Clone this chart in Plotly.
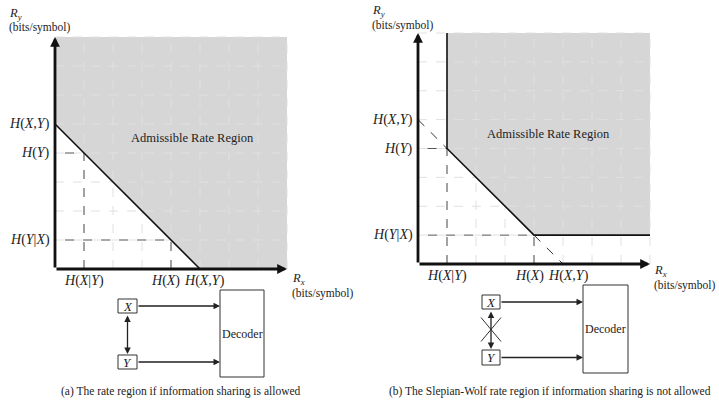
import plotly.graph_objects as go

W, H = 719, 403

# rate values in bits/symbol (one grid step = 1)
rate_max = 8
h_x_given_y = 1
h_y_given_x = 1
h_x = 4
h_y = 4
h_xy = 5
grid_steps = list(range(0, rate_max + 1))

x_tick_vals = [h_x_given_y, h_x, h_xy]
x_tick_text = ["<i>H</i>(<i>X</i>|<i>Y</i>)", "<i>H</i>(<i>X</i>)", "<i>H</i>(<i>X,Y</i>)"]
y_tick_vals = [h_y_given_x, h_y, h_xy]
y_tick_text = ["<i>H</i>(<i>Y</i>|<i>X</i>)", "<i>H</i>(<i>Y</i>)", "<i>H</i>(<i>X,Y</i>)"]

region_label = "Admissible Rate Region"
unit_label = "(bits/symbol)"
captions = ["(a) The rate region if information sharing is allowed",
            "(b) The Slepian-Wolf rate region if information sharing is not allowed"]

SERIF = "Liberation Serif, Times New Roman, serif"
SHADE = "#d6d6d6"
GRID = "#e0e0e0"
PAD = 0.5

# pixel boxes for the two rate plots: (left, right), (bottom, top)
panels = [
    dict(xa="x", ya="y", px=(55, 287), py=(269, 37), sw=False,
         xshift=[0, -6, 4], lbl=(192, 138), cap=181,
         ry=(7, 14), rx=(290, 279),
         xbox=(118, 299, 137, 313), ybox=(118, 355, 137, 369), dec=(220, 290, 264, 377)),
    dict(xa="x2", ya="y2", px=(418, 650), py=(264, 33), sw=True,
         xshift=[0, -5, 5], lbl=(548, 134), cap=550,
         ry=(370, 11), rx=(652, 271),
         xbox=(482, 295, 500, 309), ybox=(482, 350, 500, 365), dec=(583, 285, 628, 373)),
]

fig = go.Figure()
annotations = []
shapes = []


def px_ann(x, y, text, size=11, **kw):
    d = dict(x=x / W, y=1 - y / H, xref="paper", yref="paper", text=text, showarrow=False,
             xanchor="center", yanchor="middle",
             font=dict(family=SERIF, size=size, color="#222"))
    d.update(kw)
    annotations.append(d)


def px_arrow(x0, y0, x1, y1, side="end"):
    annotations.append(dict(x=x1 / W, y=1 - y1 / H, xref="paper", yref="paper",
                            ax=x0 - x1, ay=y0 - y1, axref="pixel", ayref="pixel",
                            text="", showarrow=True, arrowhead=2, startarrowhead=2,
                            arrowside=side, arrowsize=1, startarrowsize=1,
                            arrowwidth=1.3, arrowcolor="#222"))


def px_rect(x0, y0, x1, y1):
    shapes.append(dict(type="rect", xref="paper", yref="paper", x0=x0 / W, x1=x1 / W,
                       y0=1 - y0 / H, y1=1 - y1 / H, line=dict(color="#333", width=1)))


layout_axes = {}
for i, p in enumerate(panels):
    xa, ya = p["xa"], p["ya"]
    ux = (p["px"][1] - p["px"][0]) / rate_max
    uy = (p["py"][0] - p["py"][1]) / rate_max
    xdom = [(p["px"][0] - PAD * ux) / W, (p["px"][1] + PAD * ux) / W]
    ydom = [1 - (p["py"][0] + PAD * uy) / H, 1 - (p["py"][1] - PAD * uy) / H]
    suffix = "" if i == 0 else str(i + 1)
    layout_axes["xaxis" + suffix] = dict(domain=xdom, range=[-PAD, rate_max + PAD], visible=False,
                                         anchor=ya, fixedrange=True)
    layout_axes["yaxis" + suffix] = dict(domain=ydom, range=[-PAD, rate_max + PAD], visible=False,
                                         anchor=xa, fixedrange=True)

    # shaded admissible region
    if p["sw"]:
        rx = [h_x_given_y, h_x_given_y, h_x, rate_max, rate_max]
        ry = [rate_max, h_y, h_y_given_x, h_y_given_x, rate_max]
    else:
        rx = [0, h_xy, rate_max, rate_max, 0]
        ry = [h_xy, 0, 0, rate_max, rate_max]
    fig.add_trace(go.Scatter(x=rx, y=ry, fill="toself", fillcolor=SHADE, mode="lines",
                             line=dict(width=0), xaxis=xa, yaxis=ya, hoverinfo="skip"))

    # dashed grid drawn over the shading
    gx, gy = [], []
    for g in grid_steps[1:]:
        gx += [g, g, None, 0, rate_max, None]
        gy += [0, rate_max, None, g, g, None]
    fig.add_trace(go.Scatter(x=gx, y=gy, mode="lines", line=dict(color=GRID, width=1, dash="dash"),
                             xaxis=xa, yaxis=ya, hoverinfo="skip"))

    # projections of the corner points onto the axes
    cx = [h_x_given_y, h_x_given_y, 0, None, h_x, h_x, 0]
    cy = [0, h_y, h_y, None, 0, h_y_given_x, h_y_given_x]
    fig.add_trace(go.Scatter(x=cx, y=cy, mode="lines", line=dict(color="#555", width=1, dash="dash"),
                             xaxis=xa, yaxis=ya, hoverinfo="skip"))

    # boundary of the region
    if p["sw"]:
        fig.add_trace(go.Scatter(x=[0, h_x_given_y, None, h_x, h_xy], y=[h_xy, h_y, None, h_y_given_x, 0],
                                 mode="lines", line=dict(color="#333", width=1, dash="dash"),
                                 xaxis=xa, yaxis=ya, hoverinfo="skip"))
        bx, by = rx[:4], ry[:4]
    else:
        bx, by = rx[:2], ry[:2]
    fig.add_trace(go.Scatter(x=bx, y=by, mode="lines", line=dict(color="#111", width=1.6),
                             xaxis=xa, yaxis=ya, hoverinfo="skip"))

    # axes with arrow heads
    for tx, ty in [(rate_max, 0), (0, rate_max)]:
        annotations.append(dict(x=tx, y=ty, ax=0, ay=0, xref=xa, yref=ya, axref=xa, ayref=ya,
                                text="", showarrow=True, arrowhead=2, arrowsize=0.7,
                                arrowwidth=2.8, arrowcolor="#111"))

    # tick labels
    for v, t, s in zip(x_tick_vals, x_tick_text, p["xshift"]):
        annotations.append(dict(x=v, y=0, xref=xa, yref=ya, text=t, showarrow=False, yanchor="top",
                                xanchor="center", yshift=-2, xshift=s,
                                font=dict(family=SERIF, size=14, color="#222")))
    for v, t in zip(y_tick_vals, y_tick_text):
        annotations.append(dict(x=0, y=v, xref=xa, yref=ya, text=t, showarrow=False, xanchor="right",
                                yanchor="middle", xshift=-3,
                                font=dict(family=SERIF, size=14, color="#222")))

    px_ann(*p["lbl"], region_label, size=12.5)
    # axis names, R with a subscript and the unit underneath
    for (lx, ly), sub in [(p["ry"], "y"), (p["rx"], "x")]:
        px_ann(lx, ly, "<i>R</i><sub><i>%s</i></sub>" % sub, size=12.5, xanchor="left")
        px_ann(lx, ly + 14, unit_label, size=11.5, xanchor="left")
    px_ann(p["cap"], 391, captions[i], size=11.5)

    # source / decoder sketch
    xb, yb, dec = p["xbox"], p["ybox"], p["dec"]
    px_rect(*xb)
    px_rect(*yb)
    px_rect(*dec)
    px_ann((xb[0] + xb[2]) / 2, (xb[1] + xb[3]) / 2, "<i>X</i>", size=13)
    px_ann((yb[0] + yb[2]) / 2, (yb[1] + yb[3]) / 2, "<i>Y</i>", size=13)
    px_ann((dec[0] + dec[2]) / 2, (dec[1] + dec[3]) / 2, "Decoder", size=12)
    px_arrow(xb[2], (xb[1] + xb[3]) / 2, dec[0], (xb[1] + xb[3]) / 2)
    px_arrow(yb[2], (yb[1] + yb[3]) / 2, dec[0], (yb[1] + yb[3]) / 2)
    mx = (xb[0] + xb[2]) / 2
    px_arrow(mx, xb[3] + 1, mx, yb[1] - 1, side="end+start")
    if p["sw"]:
        my = (xb[3] + yb[1]) / 2
        for dx in (-10, 10):
            shapes.append(dict(type="line", xref="paper", yref="paper",
                               x0=(mx - dx) / W, x1=(mx + dx) / W,
                               y0=1 - (my - 12) / H, y1=1 - (my + 12) / H,
                               line=dict(color="#333", width=1)))

fig.update_layout(
    width=W, height=H, margin=dict(l=0, r=0, t=0, b=0),
    paper_bgcolor="white", plot_bgcolor="white", showlegend=False,
    annotations=annotations, shapes=shapes, **layout_axes,
)

# the page's default body margin would push the figure 8px down and right
fig.write_html("out.html", config={"displayModeBar": False},
               post_script="document.body.style.margin = '0px';")
